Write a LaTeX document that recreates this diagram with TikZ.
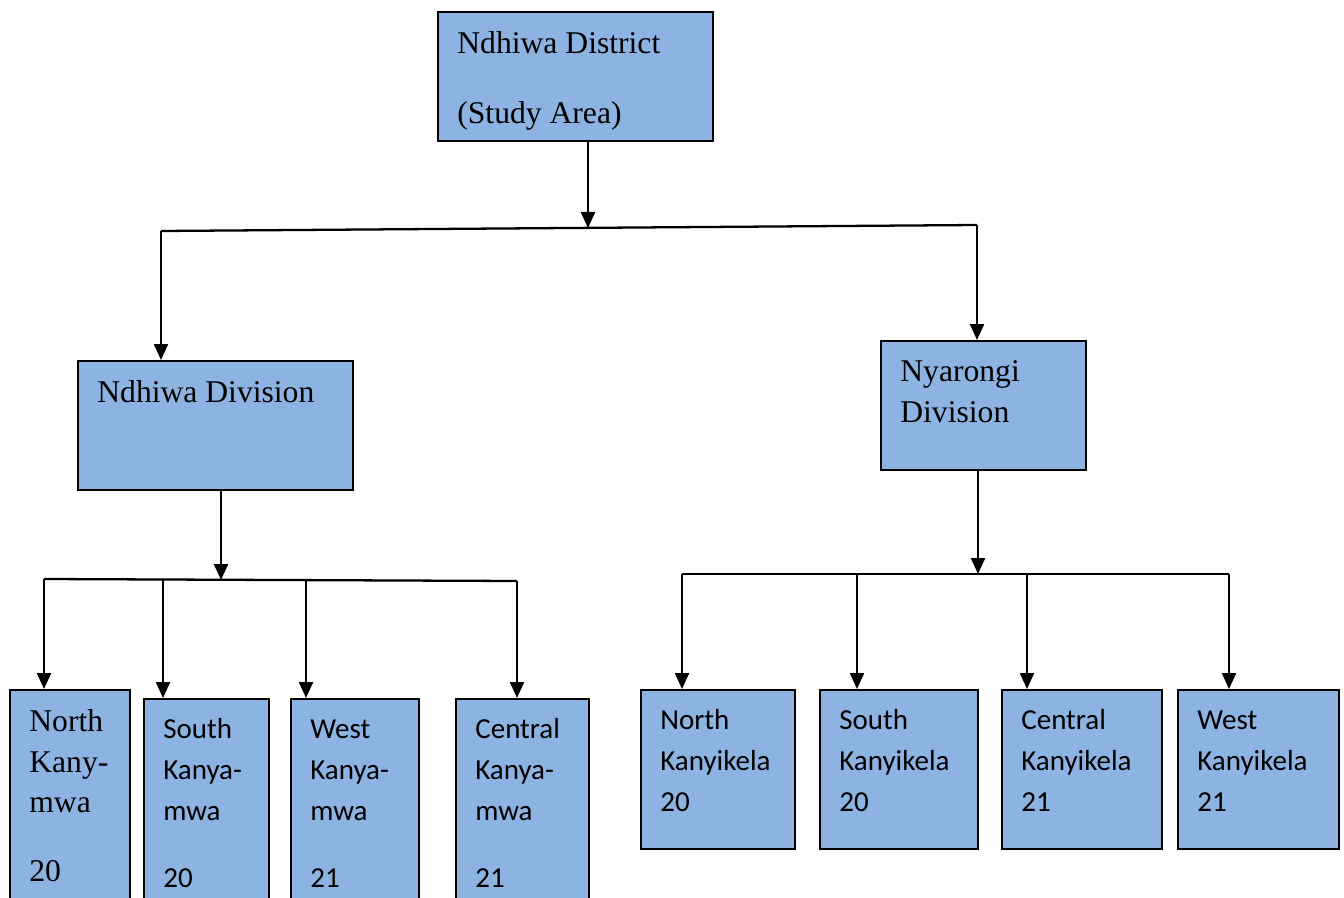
\documentclass[tikz,border=0pt]{standalone}
\usepackage{fontspec}
\setmainfont{Liberation Serif}
\newfontfamily\calibri{Carlito}
\usetikzlibrary{arrows.meta}
\definecolor{boxblue}{RGB}{141,179,226}

\begin{document}
\begin{tikzpicture}[
    box/.style={rectangle, draw, fill=boxblue, line width=0.9pt, anchor=north west},
    txt/.style={anchor=north west, inner sep=0pt, align=left, xshift=0.4cm, yshift=-0.4cm,
        font=\fontsize{18}{23.2}\selectfont},
    cal/.style={font=\calibri\fontsize{16.5}{23.2}\selectfont},
    arrow/.style={-{Triangle[length=0.32cm,width=0.28cm]}, line width=1.3pt},
    bus/.style={line width=1.3pt}
]
\clip (0,0) rectangle (26.88,-17.96);
\fill[white] (0,0) rectangle (26.88,-17.96);

% district and divisions
\node[box, minimum width=5.5cm, minimum height=2.58cm,
    label={[txt]north west:{Ndhiwa District\\[16.5pt](Study Area)}}] (district) at (8.74,-0.22) {};
\node[box, minimum width=5.5cm, minimum height=2.58cm,
    label={[txt]north west:{Ndhiwa Division}}] (ndiv) at (1.54,-7.2) {};
\node[box, minimum width=4.1cm, minimum height=2.58cm,
    label={[txt]north west:{Nyarongi\\Division}}] (nyar) at (17.6,-6.8) {};

% Kanyamwa locations
\node[box, minimum width=2.4cm, minimum height=4.6cm,
    label={[txt]north west:{North\\Kany-\\mwa\\[16pt]20}}] (nkan) at (0.18,-13.78) {};
\node[box, minimum width=2.5cm, minimum height=4.4cm,
    label={[txt, cal]north west:{South\\Kanya-\\mwa\\[15pt]20}}] (skan) at (2.86,-13.96) {};
\node[box, minimum width=2.56cm, minimum height=4.4cm,
    label={[txt, cal]north west:{\vphantom{h}West\\Kanya-\\mwa\\[15pt]21}}] (wkan) at (5.8,-13.96) {};
\node[box, minimum width=2.66cm, minimum height=4.4cm,
    label={[txt, cal]north west:{Central\\Kanya-\\mwa\\[15pt]21}}] (ckan) at (9.1,-13.96) {};

% Kanyikela locations
\node[box, minimum width=3.08cm, minimum height=3.18cm,
    label={[txt, cal]north west:{North\\Kanyikela\\20}}] (nkyk) at (12.8,-13.78) {};
\node[box, minimum width=3.16cm, minimum height=3.18cm,
    label={[txt, cal]north west:{South\\Kanyikela\\20}}] (skyk) at (16.38,-13.78) {};
\node[box, minimum width=3.2cm, minimum height=3.18cm,
    label={[txt, cal]north west:{Central\\Kanyikela\\21}}] (ckyk) at (20.02,-13.78) {};
\node[box, minimum width=3.22cm, minimum height=3.18cm,
    label={[txt, cal]north west:{\vphantom{h}West\\Kanyikela\\21}}] (wkyk) at (23.54,-13.78) {};

% bus points
\coordinate (topmid) at (11.76,-4.56);
\coordinate (topl) at (3.22,-4.62);
\coordinate (topr) at (19.54,-4.5);
\coordinate (lmid) at (4.42,-11.6);
\coordinate (l1) at (0.88,-11.58);
\coordinate (l2) at (3.26,-11.58);
\coordinate (l3) at (6.12,-11.6);
\coordinate (l4) at (10.34,-11.62);
\coordinate (rmid) at (19.56,-11.48);
\coordinate (r1) at (13.64,-11.48);
\coordinate (r2) at (17.14,-11.48);
\coordinate (r3) at (20.54,-11.48);
\coordinate (r4) at (24.58,-11.48);

\draw[bus] (topl) -- (topr);
\draw[bus] (l1) -- (l4);
\draw[bus] (r1) -- (r4);

\draw[arrow] (district.south -| topmid) -- (topmid);
\draw[arrow] (topl) -- (topl |- ndiv.north);
\draw[arrow] (topr) -- (topr |- nyar.north);

\draw[arrow] (ndiv.south -| lmid) -- (lmid);
\draw[arrow] (l1) -- (l1 |- nkan.north);
\draw[arrow] (l2) -- (l2 |- skan.north);
\draw[arrow] (l3) -- (l3 |- wkan.north);
\draw[arrow] (l4) -- (l4 |- ckan.north);

\draw[arrow] (nyar.south -| rmid) -- (rmid);
\draw[arrow] (r1) -- (r1 |- nkyk.north);
\draw[arrow] (r2) -- (r2 |- skyk.north);
\draw[arrow] (r3) -- (r3 |- ckyk.north);
\draw[arrow] (r4) -- (r4 |- wkyk.north);
\end{tikzpicture}
\end{document}
